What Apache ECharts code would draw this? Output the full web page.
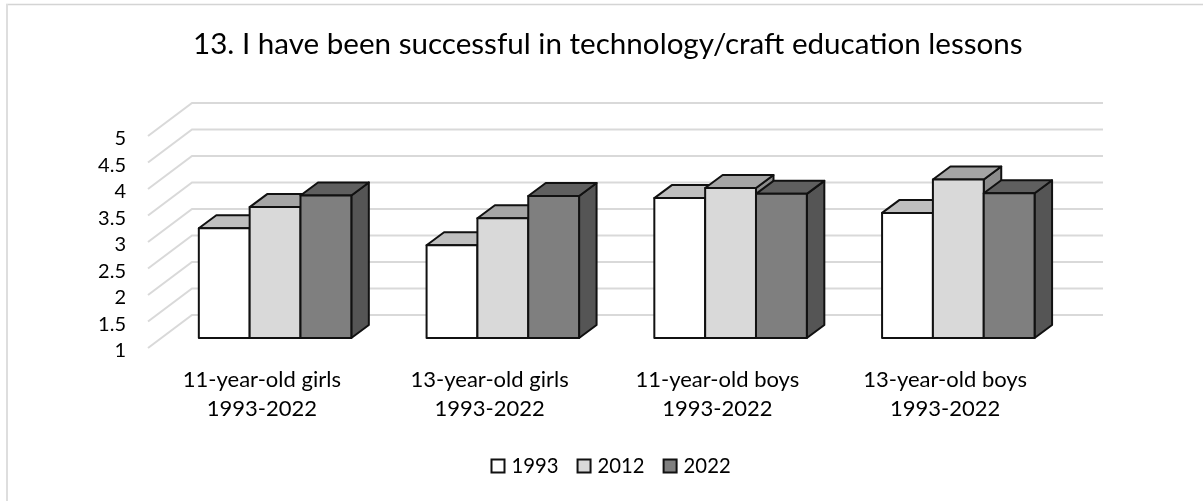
<!DOCTYPE html>
<html><head><meta charset="utf-8">
<style>html,body{margin:0;padding:0;background:#fff}#c{width:1203px;height:501px}</style>
<script src="https://cdn.jsdelivr.net/npm/echarts@6/dist/echarts.min.js"></script>
</head><body><div id="c"></div>
<script>
var categories = ['11-year-old girls\n1993-2022','13-year-old girls\n1993-2022','11-year-old boys\n1993-2022','13-year-old boys\n1993-2022'];
var years = ['1993','2012','2022'];
var values1993 = [3.07,2.75,3.64,3.36];
var values2012 = [3.47,3.26,3.83,3.99];
var values2022 = [3.69,3.68,3.72,3.73];
var yTicks = [1,1.5,2,2.5,3,3.5,4,4.5,5];
var fronts = ['#ffffff','#d9d9d9','#7f7f7f'];
var tops = ['#bfbfbf','#a5a5a5','#5f5f5f'];
var sides = ['#999999','#8c8c8c','#555555'];
var FONT = 'Lato';
var WALL_DX = 44, WALL_DY = 33;
var BAR_DX0 = 13.2, BAR_DY0 = 10, BAR_DX = 17.5, BAR_DY = 13;

function barSeries(name, vals, idx){
  return {
    type:'custom', name:name, coordinateSystem:'cartesian2d', clip:false, z:3+idx,
    data: vals.map(function(v,i){return [i,v];}),
    encode:{x:0,y:1},
    itemStyle:{color:fronts[idx]},
    renderItem:function(params,api){
      var top = api.coord([api.value(0),api.value(1)]);
      var base = api.coord([api.value(0),1]);
      var w = api.size([1,0])[0]*0.2232;
      var x0 = top[0]+BAR_DX0+(idx-1.5)*w, x1 = x0+w;
      var yt = top[1]-BAR_DY0, yb = base[1]-BAR_DY0;
      var st = {stroke:'#111',lineWidth:2,lineJoin:'round'};
      function poly(pts,fill){return {type:'polygon',shape:{points:pts},style:Object.assign({fill:fill},st)};}
      return {type:'group',children:[
        poly([[x1,yt],[x1+BAR_DX,yt-BAR_DY],[x1+BAR_DX,yb-BAR_DY],[x1,yb]],sides[idx]),
        poly([[x0,yt],[x0+BAR_DX,yt-BAR_DY],[x1+BAR_DX,yt-BAR_DY],[x1,yt]],tops[idx]),
        poly([[x0,yt],[x1,yt],[x1,yb],[x0,yb]],fronts[idx])
      ]};
    }
  };
}
var wall = {
  type:'custom', silent:true, clip:false, z:1, coordinateSystem:'cartesian2d',
  data: yTicks.map(function(t){return [0,t];}), encode:{x:0,y:1},
  renderItem:function(params,api){
    var y = api.coord([0,api.value(1)])[1];
    var cs = params.coordSys;
    return {type:'polyline',shape:{points:[[cs.x,y],[cs.x+WALL_DX,y-WALL_DY],[cs.x+cs.width+WALL_DX,y-WALL_DY]]},
      style:{fill:null,stroke:'#d9d9d9',lineWidth:2}};
  }
};
var chart = echarts.init(document.getElementById('c'),null,{renderer:'canvas'});
chart.setOption({
  animation:false, backgroundColor:'#fff',
  title:{text:'13. I have been successful in technology/craft education lessons',left:188,top:24,
    textStyle:{fontFamily:FONT,fontSize:29.6,fontWeight:'normal',color:'#000'}},
  graphic:[
    {type:'line',shape:{x1:6,y1:4.5,x2:1203,y2:4.5},style:{stroke:'#d4d4d4',lineWidth:1.5},silent:true},
    {type:'line',shape:{x1:7,y1:4,x2:7,y2:501},style:{stroke:'#dedede',lineWidth:2},silent:true}
  ],
  legend:{top:456,left:490.5,padding:0,itemWidth:13,itemHeight:13,itemGap:18,icon:'rect',
    textStyle:{fontFamily:FONT,fontSize:20.3,color:'#000',padding:[0,0,0,2]},
    data:years.map(function(y,i){return {name:y,icon:'rect',itemStyle:{color:fronts[i],borderColor:'#111',borderWidth:2}};})},
  grid:{left:148,top:136,width:911,height:212},
  xAxis:{type:'category',data:categories,axisLine:{show:false},axisTick:{show:false},splitLine:{show:false},
    axisLabel:{interval:0,margin:17,lineHeight:29,fontFamily:FONT,fontSize:22,color:'#000'}},
  yAxis:{type:'value',min:1,max:5,interval:0.5,axisLine:{show:false},axisTick:{show:false},splitLine:{show:false},
    axisLabel:{margin:22,fontFamily:FONT,fontSize:20,color:'#000',verticalAlign:'top',lineHeight:6,formatter:function(v){return String(v);}}},
  series:[wall,barSeries('1993',values1993,0),barSeries('2012',values2012,1),barSeries('2022',values2022,2)]
});
</script></body></html>
